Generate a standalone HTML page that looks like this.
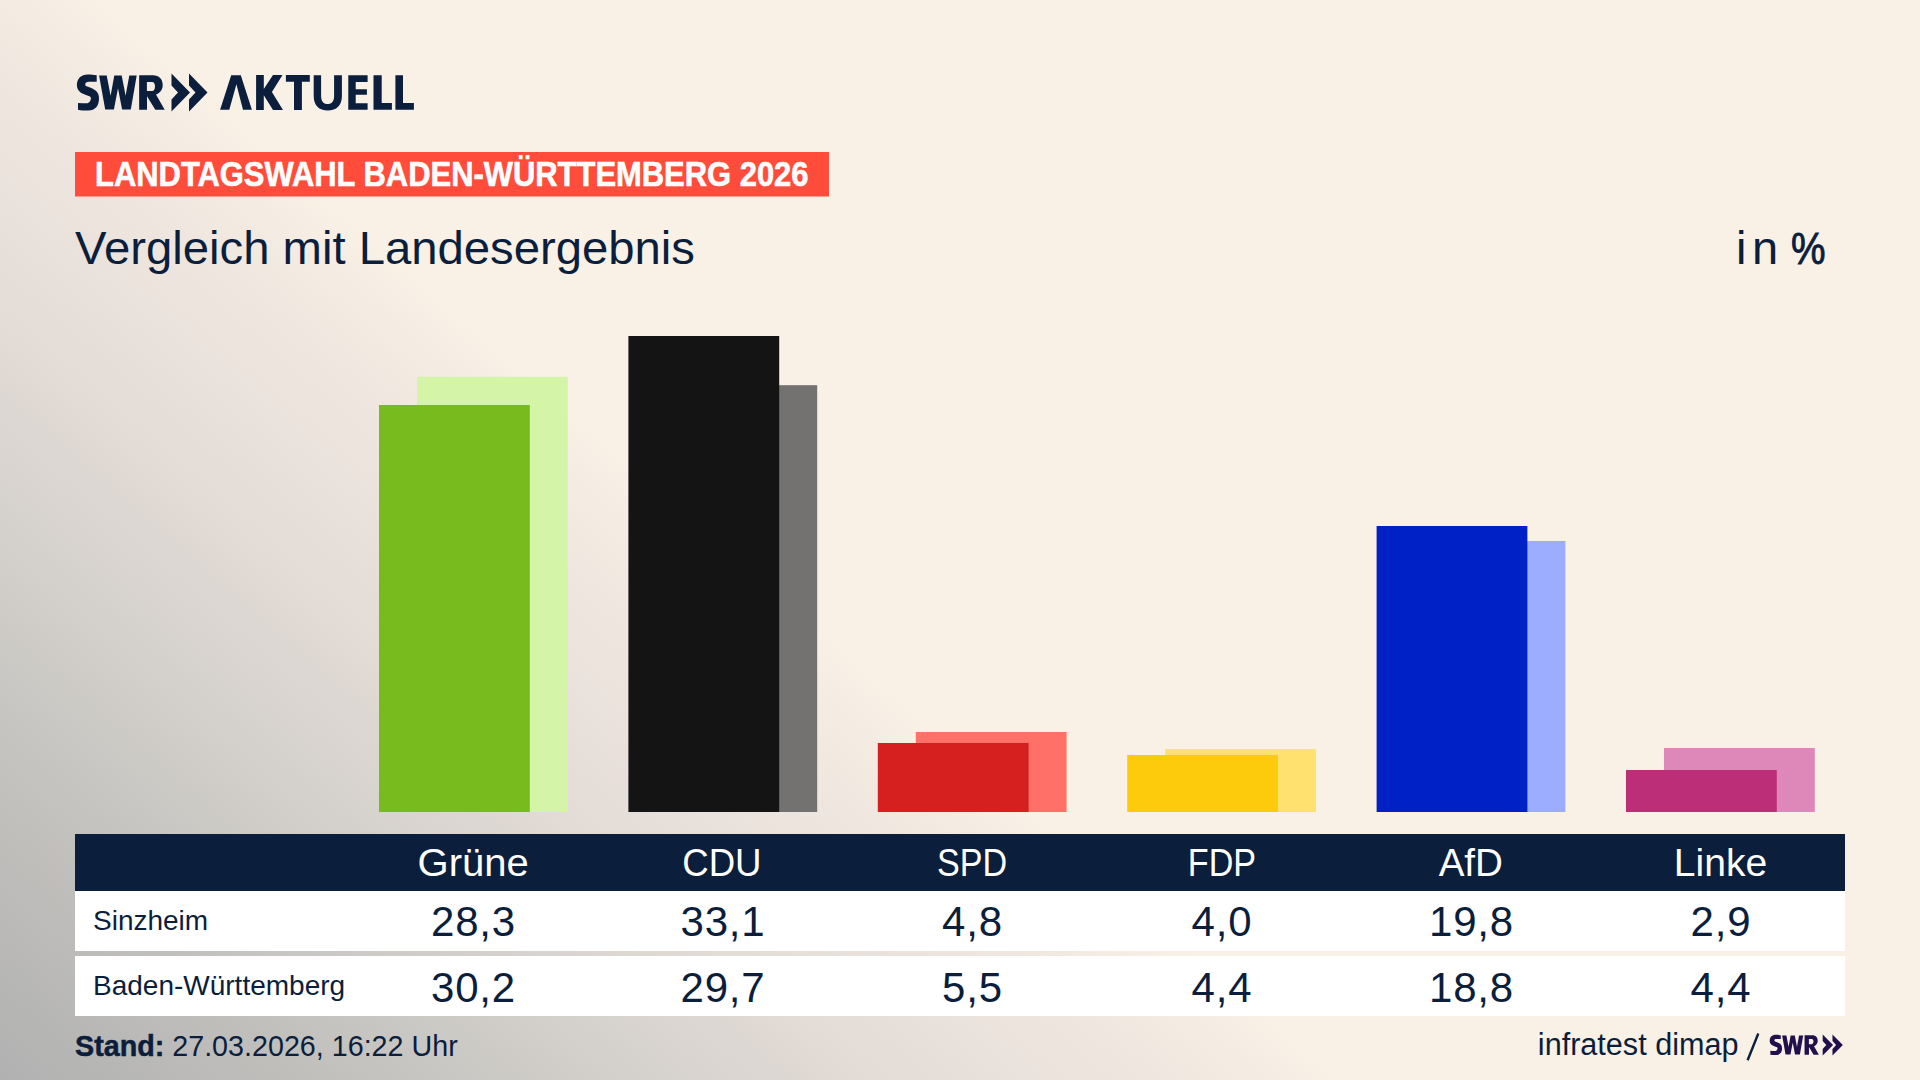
<!DOCTYPE html>
<html><head><meta charset="utf-8">
<style>
html,body{margin:0;padding:0;width:1920px;height:1080px;overflow:hidden;}
body{background:#f9f1e6;background-image:linear-gradient(41deg,#b1b1b1 0px,#c1c0bd 218px,#d3d0cb 405px,#e5ddd8 599px,#f2e9e1 800px,#f9f1e6 880px,#f9f1e6 100%);}
svg{position:absolute;left:0;top:0;}
text{font-family:"Liberation Sans",sans-serif;}
</style></head>
<body>
<svg width="1920" height="1080" viewBox="0 0 1920 1080">
<g fill="#0b1e3c"><path d="M96.7,75.2 C93.5,74.6 91,74.4 88,74.4 C81,74.4 76.9,78.5 76.9,85 C76.9,91 81,93.2 86,95 L90,96.5 C90.6,96.8 90.9,97.5 90.9,98.3 C90.9,100.5 89.5,103.3 86.5,103.3 C83.5,103.3 80.5,103.2 78,102.9 L78,109.8 C81,110.4 84.5,110.6 88,110.6 C95.5,110.6 99,105.5 99,98.5 C99,92 95.2,89.5 90,87.5 L86.5,86.3 C85.6,86 85.25,85.3 85.25,84.5 C85.25,82.5 86.5,81.7 89,81.7 C91.5,81.7 94.5,81.8 96.7,81.7 Z"/>
<path d="M99.1,75.5 L106.7,75.5 L110.6,95.7 L114.3,75.5 L121.7,75.5 L125.6,95.7 L129.3,75.5 L136.7,75.5 L130.8,109.6 L122.1,109.6 L118,88.3 L113.9,109.6 L105.2,109.6 Z"/>
<path fill-rule="evenodd" d="M139.15,75.3 H153 C159,75.3 162.7,79 162.7,85.3 C162.7,90 159.5,93.5 156,94.6 L164.7,109.8 H155.3 L147,96.3 V109.8 H139.15 Z M146.9,82 H152 C154,82 155,84 155,86.5 C155,89 154,91 152,91 H146.9 Z"/>
<path d="M171.5,73.6 L190,92.5 L171.5,111.5 L171.5,99.5 L178,92.5 L171.5,85.6 Z"/>
<path d="M189,73.6 L207.5,92.5 L189,111.5 L189,99.5 L195.5,92.5 L189,85.6 Z"/><path d="M231.2,75.15 L240.8,75.15 L251.9,109.8 L243,109.8 L236.4,84.2 L229.3,109.8 L220.1,109.8 Z"/>
<path d="M256.1,75.1 L263.8,75.1 L263.8,89.1 L273,75.1 L282.5,75.1 L271.9,92 L283,109.9 L273,109.9 L263.8,95.3 L263.8,109.9 L256.1,109.9 Z"/>
<path d="M285.9,75.1 L309.8,75.1 L309.8,81.8 L301.9,81.8 L301.9,109.9 L294,109.9 L294,81.8 L285.9,81.8 Z"/>
<path d="M313.7,75.15 H321.1 V96 C321.1,101.5 323.5,104 327.6,104 C331.7,104 334.1,101.5 334.1,96 V75.15 H341.9 V96 C341.9,105.5 336.5,110.5 327.8,110.5 C319,110.5 313.7,105.5 313.7,96 Z"/>
<path d="M348.3,75.15 L367.6,75.15 L367.6,82 L355.7,82 L355.7,89.2 L366.9,89.2 L366.9,94.8 L355.7,94.8 L355.7,103.3 L367.6,103.3 L367.6,109.8 L348.3,109.8 Z"/>
<path d="M373.5,75.15 L381.7,75.15 L381.7,103.1 L391.9,103.1 L391.9,109.8 L373.5,109.8 Z"/>
<path d="M395.4,75.15 L403,75.15 L403,103.1 L413.9,103.1 L413.9,109.8 L395.4,109.8 Z"/></g>
<rect x="75" y="152" width="754" height="44.5" fill="#ff4c3b"/>
<text x="95" y="186.2" fill="#ffffff" stroke="#ffffff" stroke-width="0.6" font-size="35" font-weight="700" textLength="713.5" lengthAdjust="spacingAndGlyphs">LANDTAGSWAHL BADEN-WÜRTTEMBERG 2026</text>
<text x="75" y="263.75" fill="#0b1e3c" font-size="46" textLength="620" lengthAdjust="spacingAndGlyphs">Vergleich mit Landesergebnis</text>
<text x="1736" y="264" fill="#0b1e3c" font-size="47" letter-spacing="5.5">in</text><text x="1791" y="264" fill="#0b1e3c" font-size="44" stroke="#0b1e3c" stroke-width="0.9" textLength="34.5" lengthAdjust="spacingAndGlyphs">%</text>
<rect x="417.0" y="376.8" width="150.8" height="435.2" fill="#d4f5a8"/><rect x="379.0" y="405.0" width="150.8" height="407.0" fill="#78bb1e"/><rect x="666.4" y="385.2" width="150.8" height="426.8" fill="#737270"/><rect x="628.4" y="336.0" width="150.8" height="476.0" fill="#141414"/><rect x="915.8" y="732.0" width="150.8" height="80.0" fill="#ff7168"/><rect x="877.8" y="743.0" width="150.8" height="69.0" fill="#d61f1f"/><rect x="1165.2" y="749.0" width="150.8" height="63.0" fill="#ffe170"/><rect x="1127.2" y="755.0" width="150.8" height="57.0" fill="#fdcb0b"/><rect x="1414.6" y="541.0" width="150.8" height="271.0" fill="#9cacff"/><rect x="1376.6" y="526.0" width="150.8" height="286.0" fill="#0021c6"/><rect x="1664.0" y="748.0" width="150.8" height="64.0" fill="#dd88b8"/><rect x="1626.0" y="770.0" width="150.8" height="42.0" fill="#bc2f78"/>
<rect x="75" y="834" width="1770" height="57" fill="#0b1e3c"/>
<rect x="75" y="891" width="1770" height="60" fill="#ffffff"/>
<rect x="75" y="956" width="1770" height="60" fill="#ffffff"/>
<g fill="#ffffff" font-size="39.5" text-anchor="middle"><text x="473.2" y="875.6" textLength="111.3" lengthAdjust="spacingAndGlyphs">Grüne</text><text x="721.9" y="875.6" textLength="79.3" lengthAdjust="spacingAndGlyphs">CDU</text><text x="972.1" y="875.6" textLength="70.2" lengthAdjust="spacingAndGlyphs">SPD</text><text x="1222.0" y="875.6" textLength="68.3" lengthAdjust="spacingAndGlyphs">FDP</text><text x="1470.8" y="875.6" textLength="64.3" lengthAdjust="spacingAndGlyphs">AfD</text><text x="1720.5" y="875.6" textLength="93.4" lengthAdjust="spacingAndGlyphs">Linke</text></g>
<g fill="#0b1e3c" font-size="42" letter-spacing="0.8" text-anchor="middle"><text x="473.5" y="936">28,3</text><text x="723.0" y="936">33,1</text><text x="972.5" y="936">4,8</text><text x="1222.0" y="936">4,0</text><text x="1471.5" y="936">19,8</text><text x="1721.0" y="936">2,9</text><text x="473.5" y="1001.7">30,2</text><text x="723.0" y="1001.7">29,7</text><text x="972.5" y="1001.7">5,5</text><text x="1222.0" y="1001.7">4,4</text><text x="1471.5" y="1001.7">18,8</text><text x="1721.0" y="1001.7">4,4</text></g>
<text x="93" y="930" fill="#0b1e3c" font-size="28">Sinzheim</text>
<text x="93" y="995.3" fill="#0b1e3c" font-size="28">Baden-Württemberg</text>
<text x="75" y="1056" fill="#0b1e3c" font-size="28.7"><tspan font-weight="700" stroke="#0b1e3c" stroke-width="0.5">Stand:</tspan> 27.03.2026, 16:22 Uhr</text>
<text x="1738.5" y="1055.4" fill="#0b1e3c" font-size="30.6" text-anchor="end">infratest dimap</text><line x1="1747.6" y1="1060.2" x2="1758.3" y2="1033.5" stroke="#0b1e3c" stroke-width="2.4"/>
<g fill="#22104d" transform="translate(1726.64,993.18) scale(0.56)"><path d="M96.7,75.2 C93.5,74.6 91,74.4 88,74.4 C81,74.4 76.9,78.5 76.9,85 C76.9,91 81,93.2 86,95 L90,96.5 C90.6,96.8 90.9,97.5 90.9,98.3 C90.9,100.5 89.5,103.3 86.5,103.3 C83.5,103.3 80.5,103.2 78,102.9 L78,109.8 C81,110.4 84.5,110.6 88,110.6 C95.5,110.6 99,105.5 99,98.5 C99,92 95.2,89.5 90,87.5 L86.5,86.3 C85.6,86 85.25,85.3 85.25,84.5 C85.25,82.5 86.5,81.7 89,81.7 C91.5,81.7 94.5,81.8 96.7,81.7 Z"/>
<path d="M99.1,75.5 L106.7,75.5 L110.6,95.7 L114.3,75.5 L121.7,75.5 L125.6,95.7 L129.3,75.5 L136.7,75.5 L130.8,109.6 L122.1,109.6 L118,88.3 L113.9,109.6 L105.2,109.6 Z"/>
<path fill-rule="evenodd" d="M139.15,75.3 H153 C159,75.3 162.7,79 162.7,85.3 C162.7,90 159.5,93.5 156,94.6 L164.7,109.8 H155.3 L147,96.3 V109.8 H139.15 Z M146.9,82 H152 C154,82 155,84 155,86.5 C155,89 154,91 152,91 H146.9 Z"/>
<path d="M171.5,73.6 L190,92.5 L171.5,111.5 L171.5,99.5 L178,92.5 L171.5,85.6 Z"/>
<path d="M189,73.6 L207.5,92.5 L189,111.5 L189,99.5 L195.5,92.5 L189,85.6 Z"/></g>
</svg>
</body></html>
